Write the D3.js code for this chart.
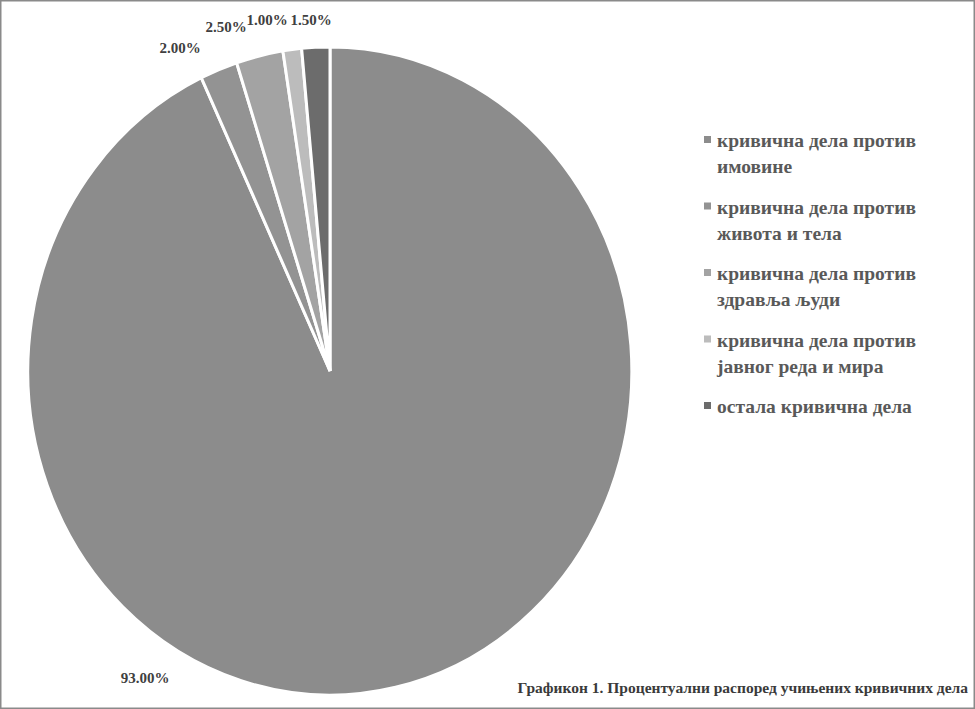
<!DOCTYPE html>
<html><head><meta charset="utf-8">
<script src="https://cdn.jsdelivr.net/npm/d3@7"></script>
<style>body{margin:0;background:#fff}text{font-family:"Liberation Serif",serif;font-weight:bold}</style>
</head><body><svg id="chart" width="975" height="709"></svg>
<script>
const categories = ["кривична дела против имовине", "кривична дела против живота и тела", "кривична дела против здравља људи", "кривична дела против јавног реда и мира", "остала кривична дела"]
const legendLines = [["кривична дела против", "имовине"], ["кривична дела против", "живота и тела"], ["кривична дела против", "здравља људи"], ["кривична дела против", "јавног реда и мира"], ["остала кривична дела"]]
const values = [93, 2, 2.5, 1, 1.5]
const colors = ["#8c8c8c", "#939393", "#a3a3a3", "#bcbcbc", "#6c6c6c"]
const title = "Графикон 1. Процентуални распоред учињених кривичних дела"

const svg = d3.select("#chart")
svg.append("rect").attr("x", 0.5).attr("y", 0.5).attr("width", 974).attr("height", 708)
    .attr("fill", "#fff").attr("stroke", "#8a8a8a").attr("stroke-width", 2)

// пита је мало развучена по висини
const cx = 330, cy = 371, rx = 302, ry = 324
const pie = d3.pie().sort(null).value(d => d)
const arcs = pie(values)
const arc = d3.arc().innerRadius(0).outerRadius(1)
const g = svg.append("g").attr("transform", `translate(${cx},${cy}) scale(${rx},${ry})`)
g.selectAll("path").data(arcs).join("path")
    .attr("d", arc).attr("fill", (d, i) => colors[i])
    .attr("stroke", "#fff").attr("stroke-width", 3).attr("vector-effect", "non-scaling-stroke")

// ознаке процената
const labelPos = [[145, 683], [180, 53], [226, 32], [267, 25], [311, 25]]
arcs.forEach((d, i) => {
    svg.append("text").text(values[i].toFixed(2) + "%")
        .attr("x", labelPos[i][0]).attr("y", labelPos[i][1])
        .attr("text-anchor", "middle").attr("font-size", 15).attr("fill", "#404040")
})

// легенда
const ly = d3.scalePoint().domain(categories).range([147, 413])
categories.forEach((c, i) => {
    const y = ly(c)
    svg.append("rect").attr("x", 704).attr("y", y - 11).attr("width", 7).attr("height", 7).attr("fill", colors[i])
    legendLines[i].forEach((t, j) => {
        svg.append("text").text(t).attr("x", 717).attr("y", y + j * 26)
            .attr("font-size", 19.5).attr("fill", "#595959")
    })
})

svg.append("text").text(title).attr("x", 968).attr("y", 693).attr("text-anchor", "end")
    .attr("font-size", 15.5).attr("fill", "#3a3a3a")
</script></body></html>
